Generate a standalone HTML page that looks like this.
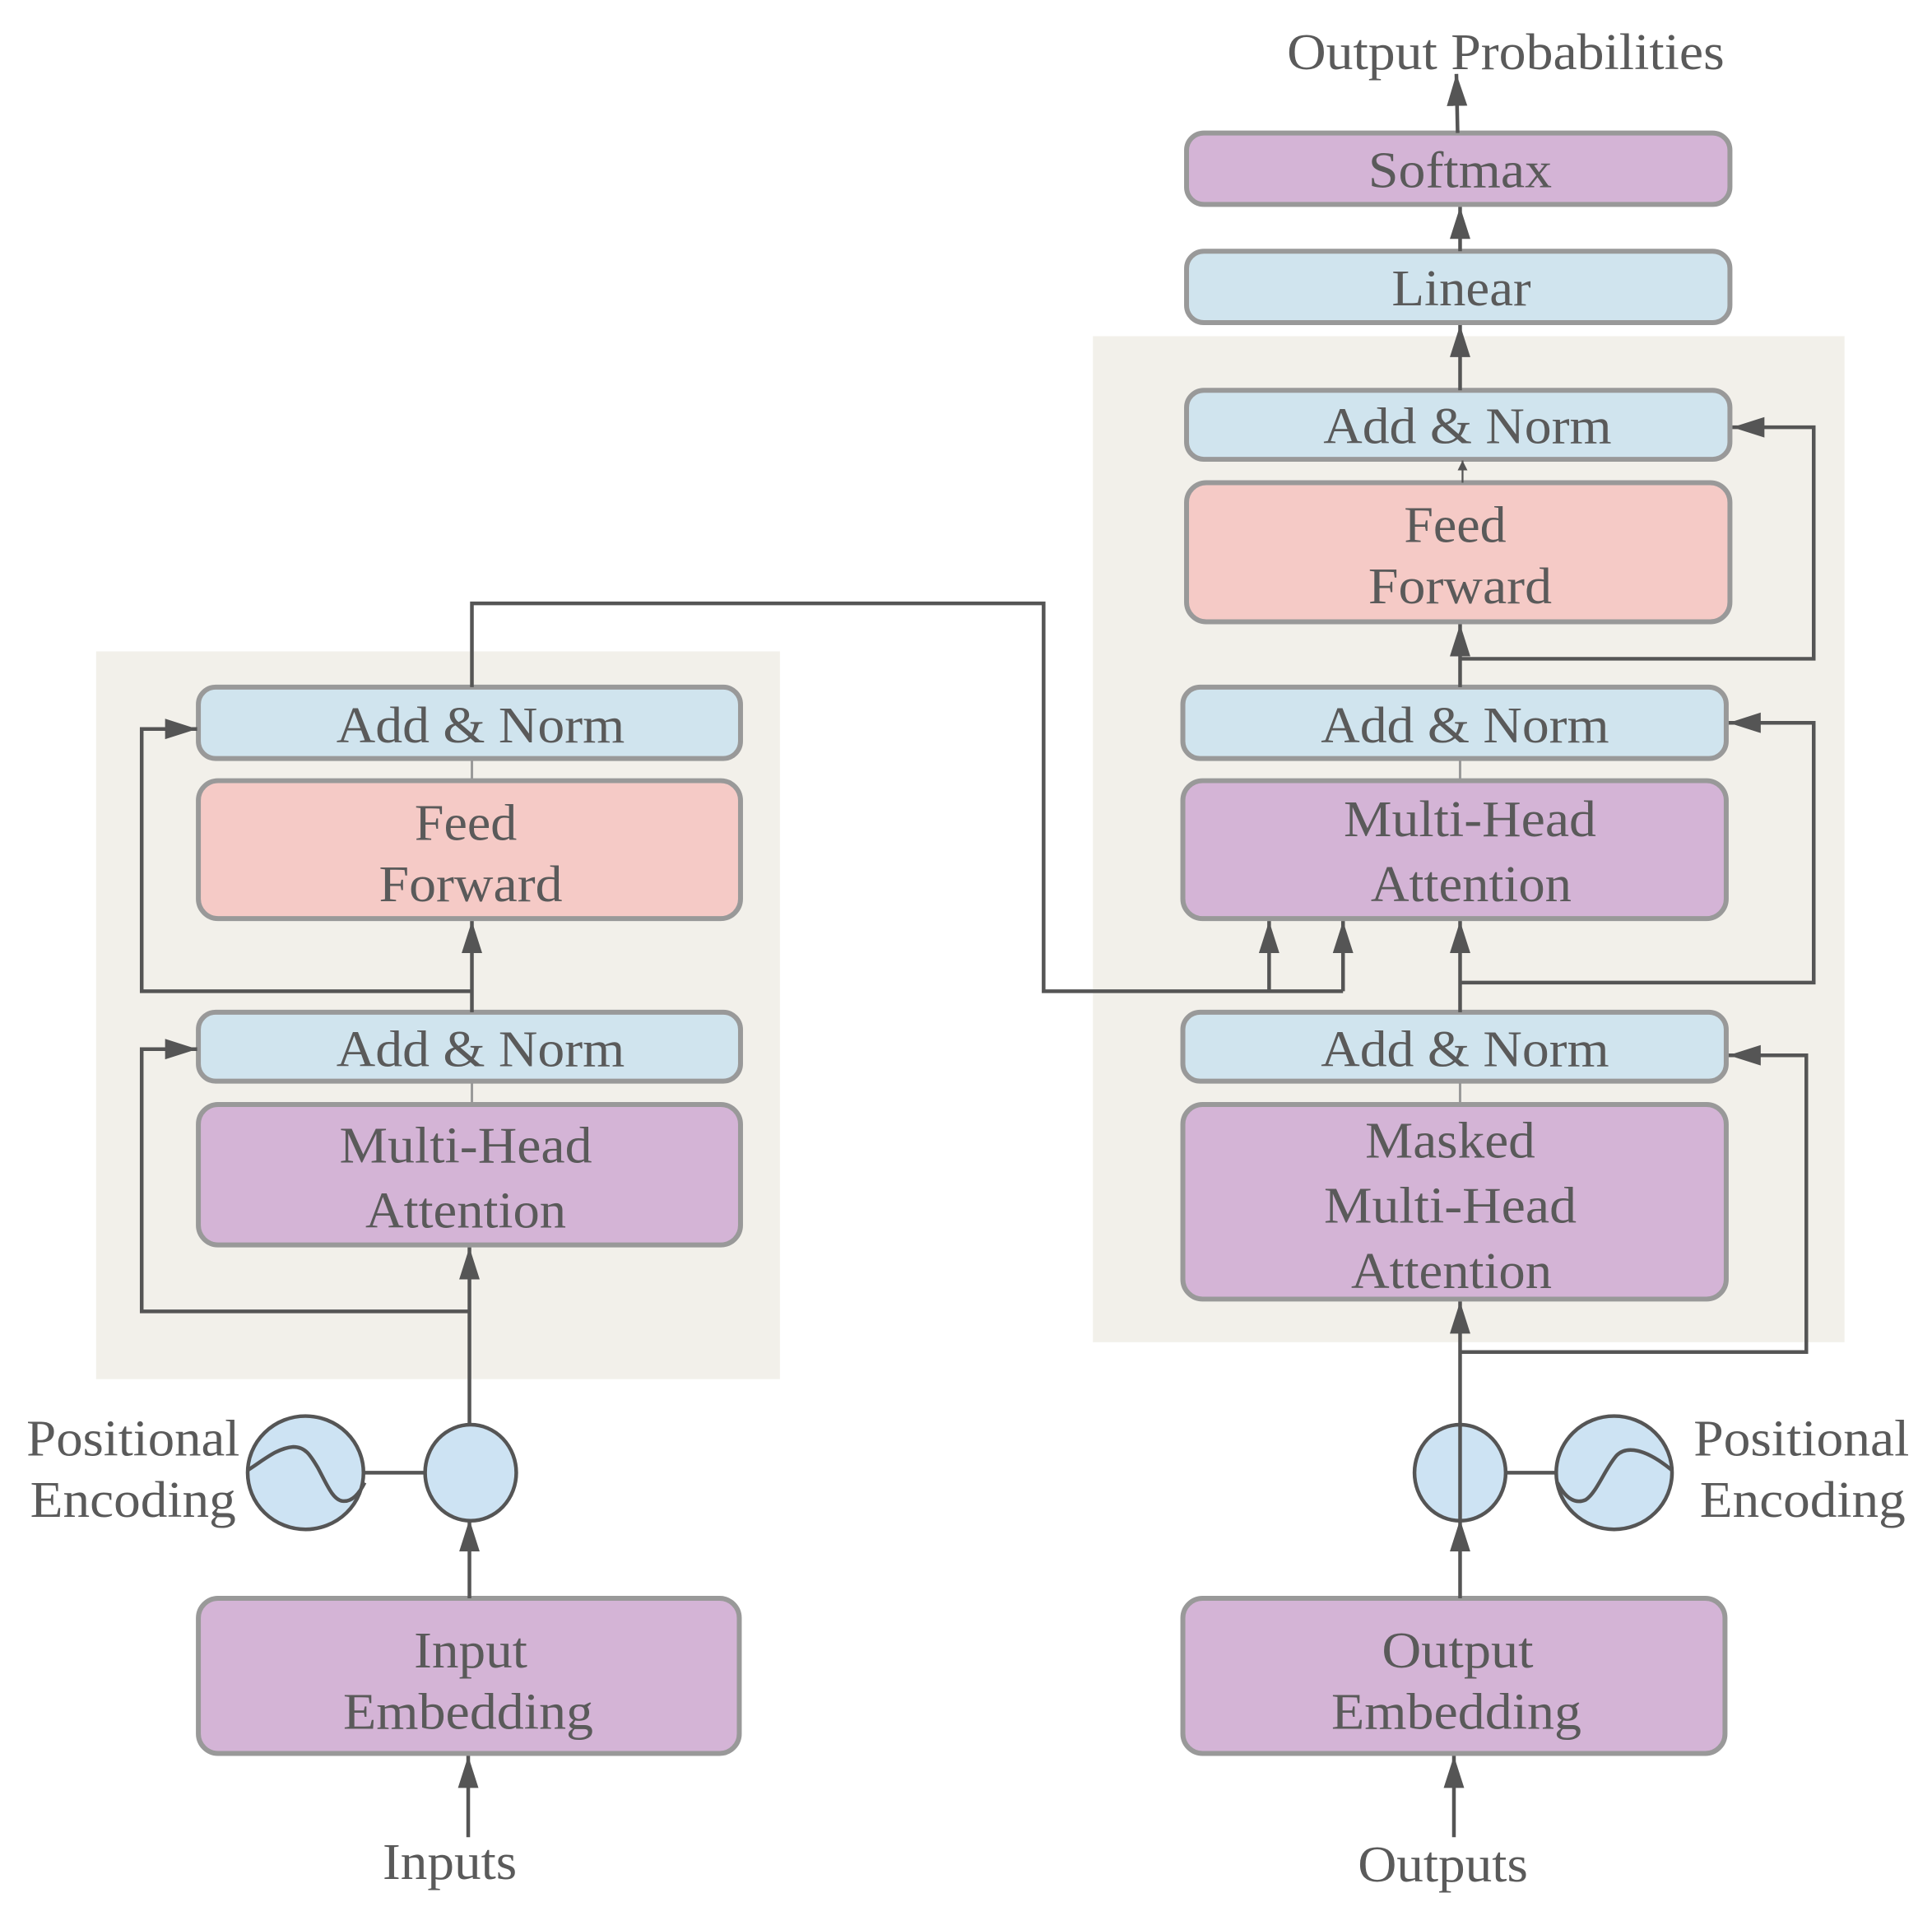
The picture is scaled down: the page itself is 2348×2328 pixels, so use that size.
<!DOCTYPE html>
<html><head><style>html,body{margin:0;padding:0;background:#fff}svg{display:block}</style></head>
<body>
<svg width="2348" height="2328" viewBox="0 0 1568 1556" preserveAspectRatio="none" xmlns="http://www.w3.org/2000/svg">
<defs>
<marker id="a" viewBox="0 0 10 10" refX="10" refY="5" markerWidth="8" markerHeight="8" markerUnits="userSpaceOnUse" orient="auto"><path d="M0,0 L10,5 L0,10z" fill="#555"/></marker>
<marker id="b" viewBox="0 0 10 10" refX="10" refY="5" markerWidth="26" markerHeight="26" markerUnits="userSpaceOnUse" orient="auto"><path d="M0,1.8 L10,5 L0,8.2z" fill="#555"/></marker>
</defs>
<rect x="78" y="529" width="555" height="591" fill="#f2f0ea"/>
<rect x="887" y="273" width="610" height="817" fill="#f2f0ea"/>
<g stroke="#999" stroke-width="2"><line x1="383" y1="616" x2="383" y2="634"/><line x1="383" y1="878" x2="383" y2="897"/><line x1="1185" y1="616" x2="1185" y2="634"/><line x1="1185" y1="878" x2="1185" y2="897"/></g>
<g stroke="#999" stroke-width="4">
<rect x="161" y="558" width="440" height="58" rx="14" fill="#d0e4ee"/>
<rect x="161" y="634" width="440" height="112" rx="16" fill="#f5cac6"/>
<rect x="161" y="822" width="440" height="56" rx="14" fill="#d0e4ee"/>
<rect x="161" y="897" width="440" height="114" rx="16" fill="#d4b4d6"/>
<rect x="161" y="1298" width="439" height="126" rx="16" fill="#d4b4d6"/>
<rect x="963" y="108" width="441" height="58" rx="14" fill="#d4b4d6"/>
<rect x="963" y="204" width="441" height="58" rx="14" fill="#d0e4ee"/>
<rect x="963" y="317" width="441" height="56" rx="14" fill="#d0e4ee"/>
<rect x="963" y="392" width="441" height="113" rx="16" fill="#f5cac6"/>
<rect x="960" y="558" width="441" height="58" rx="14" fill="#d0e4ee"/>
<rect x="960" y="634" width="441" height="112" rx="16" fill="#d4b4d6"/>
<rect x="960" y="822" width="441" height="56" rx="14" fill="#d0e4ee"/>
<rect x="960" y="897" width="441" height="158" rx="16" fill="#d4b4d6"/>
<rect x="960" y="1298" width="440" height="126" rx="16" fill="#d4b4d6"/>
</g>
<g stroke="#555" stroke-width="3" fill="none">
<line x1="380" y1="1492" x2="380" y2="1426" marker-end="url(#b)"/>
<line x1="381" y1="1298" x2="381" y2="1234" marker-end="url(#b)"/>
<line x1="381" y1="1158" x2="381" y2="1013" marker-end="url(#b)"/>
<polyline points="381,1065 115,1065 115,852 160,852" marker-end="url(#b)"/>
<line x1="383" y1="822" x2="383" y2="748" marker-end="url(#b)"/>
<polyline points="383,805 115,805 115,592 160,592" marker-end="url(#b)"/>
<polyline points="383,558 383,490 847,490 847,805 1090,805"/>
<line x1="1030" y1="805" x2="1030" y2="748" marker-end="url(#b)"/>
<line x1="1090" y1="805" x2="1090" y2="748" marker-end="url(#b)"/>
<line x1="1180" y1="1492" x2="1180" y2="1426" marker-end="url(#b)"/>
<line x1="1185" y1="1298" x2="1185" y2="1234" marker-end="url(#b)"/>
<line x1="1185" y1="1158" x2="1185" y2="1057" marker-end="url(#b)"/>
<polyline points="1185,1098 1466,1098 1466,857 1403,857" marker-end="url(#b)"/>
<line x1="1185" y1="822" x2="1185" y2="748" marker-end="url(#b)"/>
<polyline points="1185,798 1472,798 1472,587 1403,587" marker-end="url(#b)"/>
<line x1="1185" y1="558" x2="1185" y2="507" marker-end="url(#b)"/>
<polyline points="1185,535 1472,535 1472,347 1406,347" marker-end="url(#b)"/>
<line x1="1187" y1="392" x2="1187" y2="374" stroke-width="1.5" marker-end="url(#a)"/>
<line x1="1185" y1="317" x2="1185" y2="264" marker-end="url(#b)"/>
<line x1="1185" y1="204" x2="1185" y2="168" marker-end="url(#b)"/>
<line x1="1183" y1="108" x2="1182" y2="60" marker-end="url(#b)"/>
<line x1="295" y1="1196" x2="345" y2="1196"/>
<line x1="1222" y1="1196" x2="1263" y2="1196"/>
</g>
<g stroke="#555" stroke-width="3">
<ellipse cx="248" cy="1196" rx="47" ry="46" fill="#cde3f3"/>
<ellipse cx="382" cy="1196" rx="37" ry="39" fill="#cde3f3"/>
<ellipse cx="1185" cy="1196" rx="37" ry="39" fill="#cde3f3"/>
<ellipse cx="1310" cy="1196" rx="47" ry="46" fill="#cde3f3"/>
<path d="M201,1194 C215,1185 225,1176 238,1175 C248,1175 252,1182 258,1192 C265,1205 270,1218 278,1219 C286,1220 292,1212 296,1204" fill="none"/>
<path d="M1264,1204 C1270,1216 1278,1222 1287,1218 C1296,1212 1303,1192 1312,1182 C1320,1174 1335,1176 1357,1194" fill="none"/>
<line x1="1185" y1="1158" x2="1185" y2="1236"/>
</g>
<g font-family="Liberation Serif, serif" font-size="42" fill="#5a5a5a" text-anchor="middle">
<text x="1222" y="56" textLength="355" lengthAdjust="spacingAndGlyphs">Output Probabilities</text>
<text x="1185" y="152" textLength="149" lengthAdjust="spacingAndGlyphs">Softmax</text>
<text x="1186" y="248" textLength="113" lengthAdjust="spacingAndGlyphs">Linear</text>
<text x="1191" y="360" textLength="234" lengthAdjust="spacingAndGlyphs">Add &amp; Norm</text>
<text x="1181" y="440" textLength="83" lengthAdjust="spacingAndGlyphs">Feed</text>
<text x="1185" y="490" textLength="149" lengthAdjust="spacingAndGlyphs">Forward</text>
<text x="1189" y="603" textLength="234" lengthAdjust="spacingAndGlyphs">Add &amp; Norm</text>
<text x="1193" y="679" textLength="205" lengthAdjust="spacingAndGlyphs">Multi-Head</text>
<text x="1194" y="732" textLength="163" lengthAdjust="spacingAndGlyphs">Attention</text>
<text x="1189" y="866" textLength="234" lengthAdjust="spacingAndGlyphs">Add &amp; Norm</text>
<text x="1177" y="940" textLength="138" lengthAdjust="spacingAndGlyphs">Masked</text>
<text x="1177" y="993" textLength="205" lengthAdjust="spacingAndGlyphs">Multi-Head</text>
<text x="1178" y="1046" textLength="163" lengthAdjust="spacingAndGlyphs">Attention</text>
<text x="1183" y="1354" textLength="123" lengthAdjust="spacingAndGlyphs">Output</text>
<text x="1182" y="1404" textLength="203" lengthAdjust="spacingAndGlyphs">Embedding</text>
<text x="1171" y="1528" textLength="138" lengthAdjust="spacingAndGlyphs">Outputs</text>
<text x="1462" y="1182" textLength="175" lengthAdjust="spacingAndGlyphs">Positional</text>
<text x="1463" y="1232" textLength="167" lengthAdjust="spacingAndGlyphs">Encoding</text>
<text x="390" y="603" textLength="234" lengthAdjust="spacingAndGlyphs">Add &amp; Norm</text>
<text x="378" y="682" textLength="83" lengthAdjust="spacingAndGlyphs">Feed</text>
<text x="382" y="732" textLength="149" lengthAdjust="spacingAndGlyphs">Forward</text>
<text x="390" y="866" textLength="234" lengthAdjust="spacingAndGlyphs">Add &amp; Norm</text>
<text x="378" y="944" textLength="205" lengthAdjust="spacingAndGlyphs">Multi-Head</text>
<text x="378" y="997" textLength="163" lengthAdjust="spacingAndGlyphs">Attention</text>
<text x="382" y="1354" textLength="92" lengthAdjust="spacingAndGlyphs">Input</text>
<text x="380" y="1404" textLength="203" lengthAdjust="spacingAndGlyphs">Embedding</text>
<text x="365" y="1526" textLength="109" lengthAdjust="spacingAndGlyphs">Inputs</text>
<text x="108" y="1182" textLength="173" lengthAdjust="spacingAndGlyphs">Positional</text>
<text x="108" y="1232" textLength="167" lengthAdjust="spacingAndGlyphs">Encoding</text>
</g>
</svg>
</body></html>
